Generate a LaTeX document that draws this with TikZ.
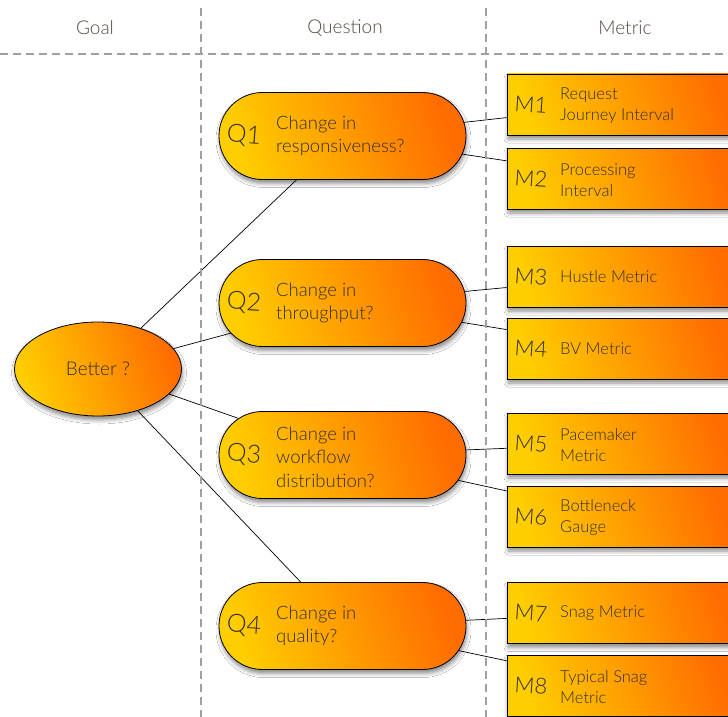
\documentclass[tikz,border=0pt]{standalone}
\usepackage{fontspec}
\setmainfont{Lato Light}
\usetikzlibrary{shapes.geometric,shapes.misc,shadows.blur,backgrounds}
\definecolor{inkcol}{RGB}{52,46,30}
\definecolor{fillA}{RGB}{255,206,0}
\definecolor{fillB}{RGB}{255,108,0}
\definecolor{guidecol}{RGB}{160,160,160}
\tikzset{
  warm/.style={draw=black, line width=0.8pt,
    top color=fillB, bottom color=fillA, shading angle=-72,
    blur shadow={shadow xshift=1pt, shadow yshift=-4pt, shadow blur radius=4pt, shadow opacity=45}},
  goalnode/.style={warm, ellipse, minimum width=167pt, minimum height=94pt, inner sep=0pt,
    font=\fontsize{19}{23}\selectfont, text=inkcol},
  qnode/.style={warm, rounded rectangle, minimum width=247pt, minimum height=87pt, inner sep=0pt},
  mnode/.style={warm, rectangle, minimum width=234pt, minimum height=61pt, inner sep=0pt},
  qtag/.style={font=\fontsize{25}{25}\selectfont, text=inkcol, rotate=-4},
  mtag/.style={font=\fontsize{22}{22}\selectfont, text=inkcol, rotate=-4},
  qtext/.style={anchor=west, align=left, font=\fontsize{18.5}{23.5}\selectfont, text=inkcol, inner sep=0pt},
  mtext/.style={anchor=west, align=left, font=\fontsize{16.5}{21}\selectfont, text=inkcol, inner sep=0pt},
  header/.style={font=\fontsize{19}{22}\selectfont, text=inkcol!85},
  guide/.style={draw=guidecol, line width=1.3pt, dash pattern=on 8pt off 5pt},
  link/.style={draw=black, line width=0.7pt}
}
\begin{document}
\begin{tikzpicture}[x=1pt, y=-1pt]
\clip (0,0) rectangle (728,717);

% column guides and headers
\coordinate (hl) at (0,54);
\coordinate (hr) at (728,54);
\coordinate (v1t) at (201,8);
\coordinate (v1b) at (201,717);
\coordinate (v2t) at (486,8);
\coordinate (v2b) at (486,717);
\draw[guide] (hl) -- (hr);
\draw[guide] (v1t) -- (v1b);
\draw[guide] (v2t) -- (v2b);
\node[header] (hgoal) at (95,28) {Goal};
\node[header] (hquestion) at (345,28) {Question};
\node[header] (hmetric) at (625,28) {Metric};

% goal
\node[goalnode] (goal) at (98,369) {Better ?};

% questions
\foreach \n/\y in {1/136, 2/303, 3/455, 4/626}{
  \node[qnode] (q\n) at (342.5,\y) {};
  \node[qtag] (q\n tag) at (244,\y) {Q\n};
}
\node[qtext] (q1text) at (276,136) {Change in\\responsiveness?};
\node[qtext] (q2text) at (276,303) {Change in\\throughput?};
\node[qtext] (q3text) at (276,457) {Change in\\workflow\\distribution?};
\node[qtext] (q4text) at (276,626) {Change in\\quality?};

% metrics
\foreach \n/\y in {1/104.5, 2/178.5, 3/276.5, 4/348.5, 5/443.5, 6/516.5, 7/613, 8/685.5}{
  \node[mnode] (m\n) at (624,\y) {};
  \node[mtag] (m\n tag) at (531,\y) {M\n};
}
\node[mtext] (m1text) at (560,106) {Request\\Journey Interval};
\node[mtext] (m2text) at (560,180) {Processing\\Interval};
\node[mtext] (m3text) at (560,276.5) {Hustle Metric};
\node[mtext] (m4text) at (560,348.5) {BV Metric};
\node[mtext] (m5text) at (560,445) {Pacemaker\\Metric};
\node[mtext] (m6text) at (560,518) {Bottleneck\\Gauge};
\node[mtext] (m7text) at (560,613) {Snag Metric};
\node[mtext] (m8text) at (560,687) {Typical Snag\\Metric};

% connectors, kept under the nodes
\begin{scope}[on background layer]
\fill[white] (0,0) rectangle (728,717);
\foreach \n in {1,2,3,4}{\draw[link] (goal) -- (q\n);}
\draw[link] (q1) -- (m1);
\draw[link] (q1) -- (m2);
\draw[link] (q2) -- (m3);
\draw[link] (q2) -- (m4);
\draw[link] (q3) -- (m5);
\draw[link] (q3) -- (m6);
\draw[link] (q4) -- (m7);
\draw[link] (q4) -- (m8);
\end{scope}
\end{tikzpicture}
\end{document}
